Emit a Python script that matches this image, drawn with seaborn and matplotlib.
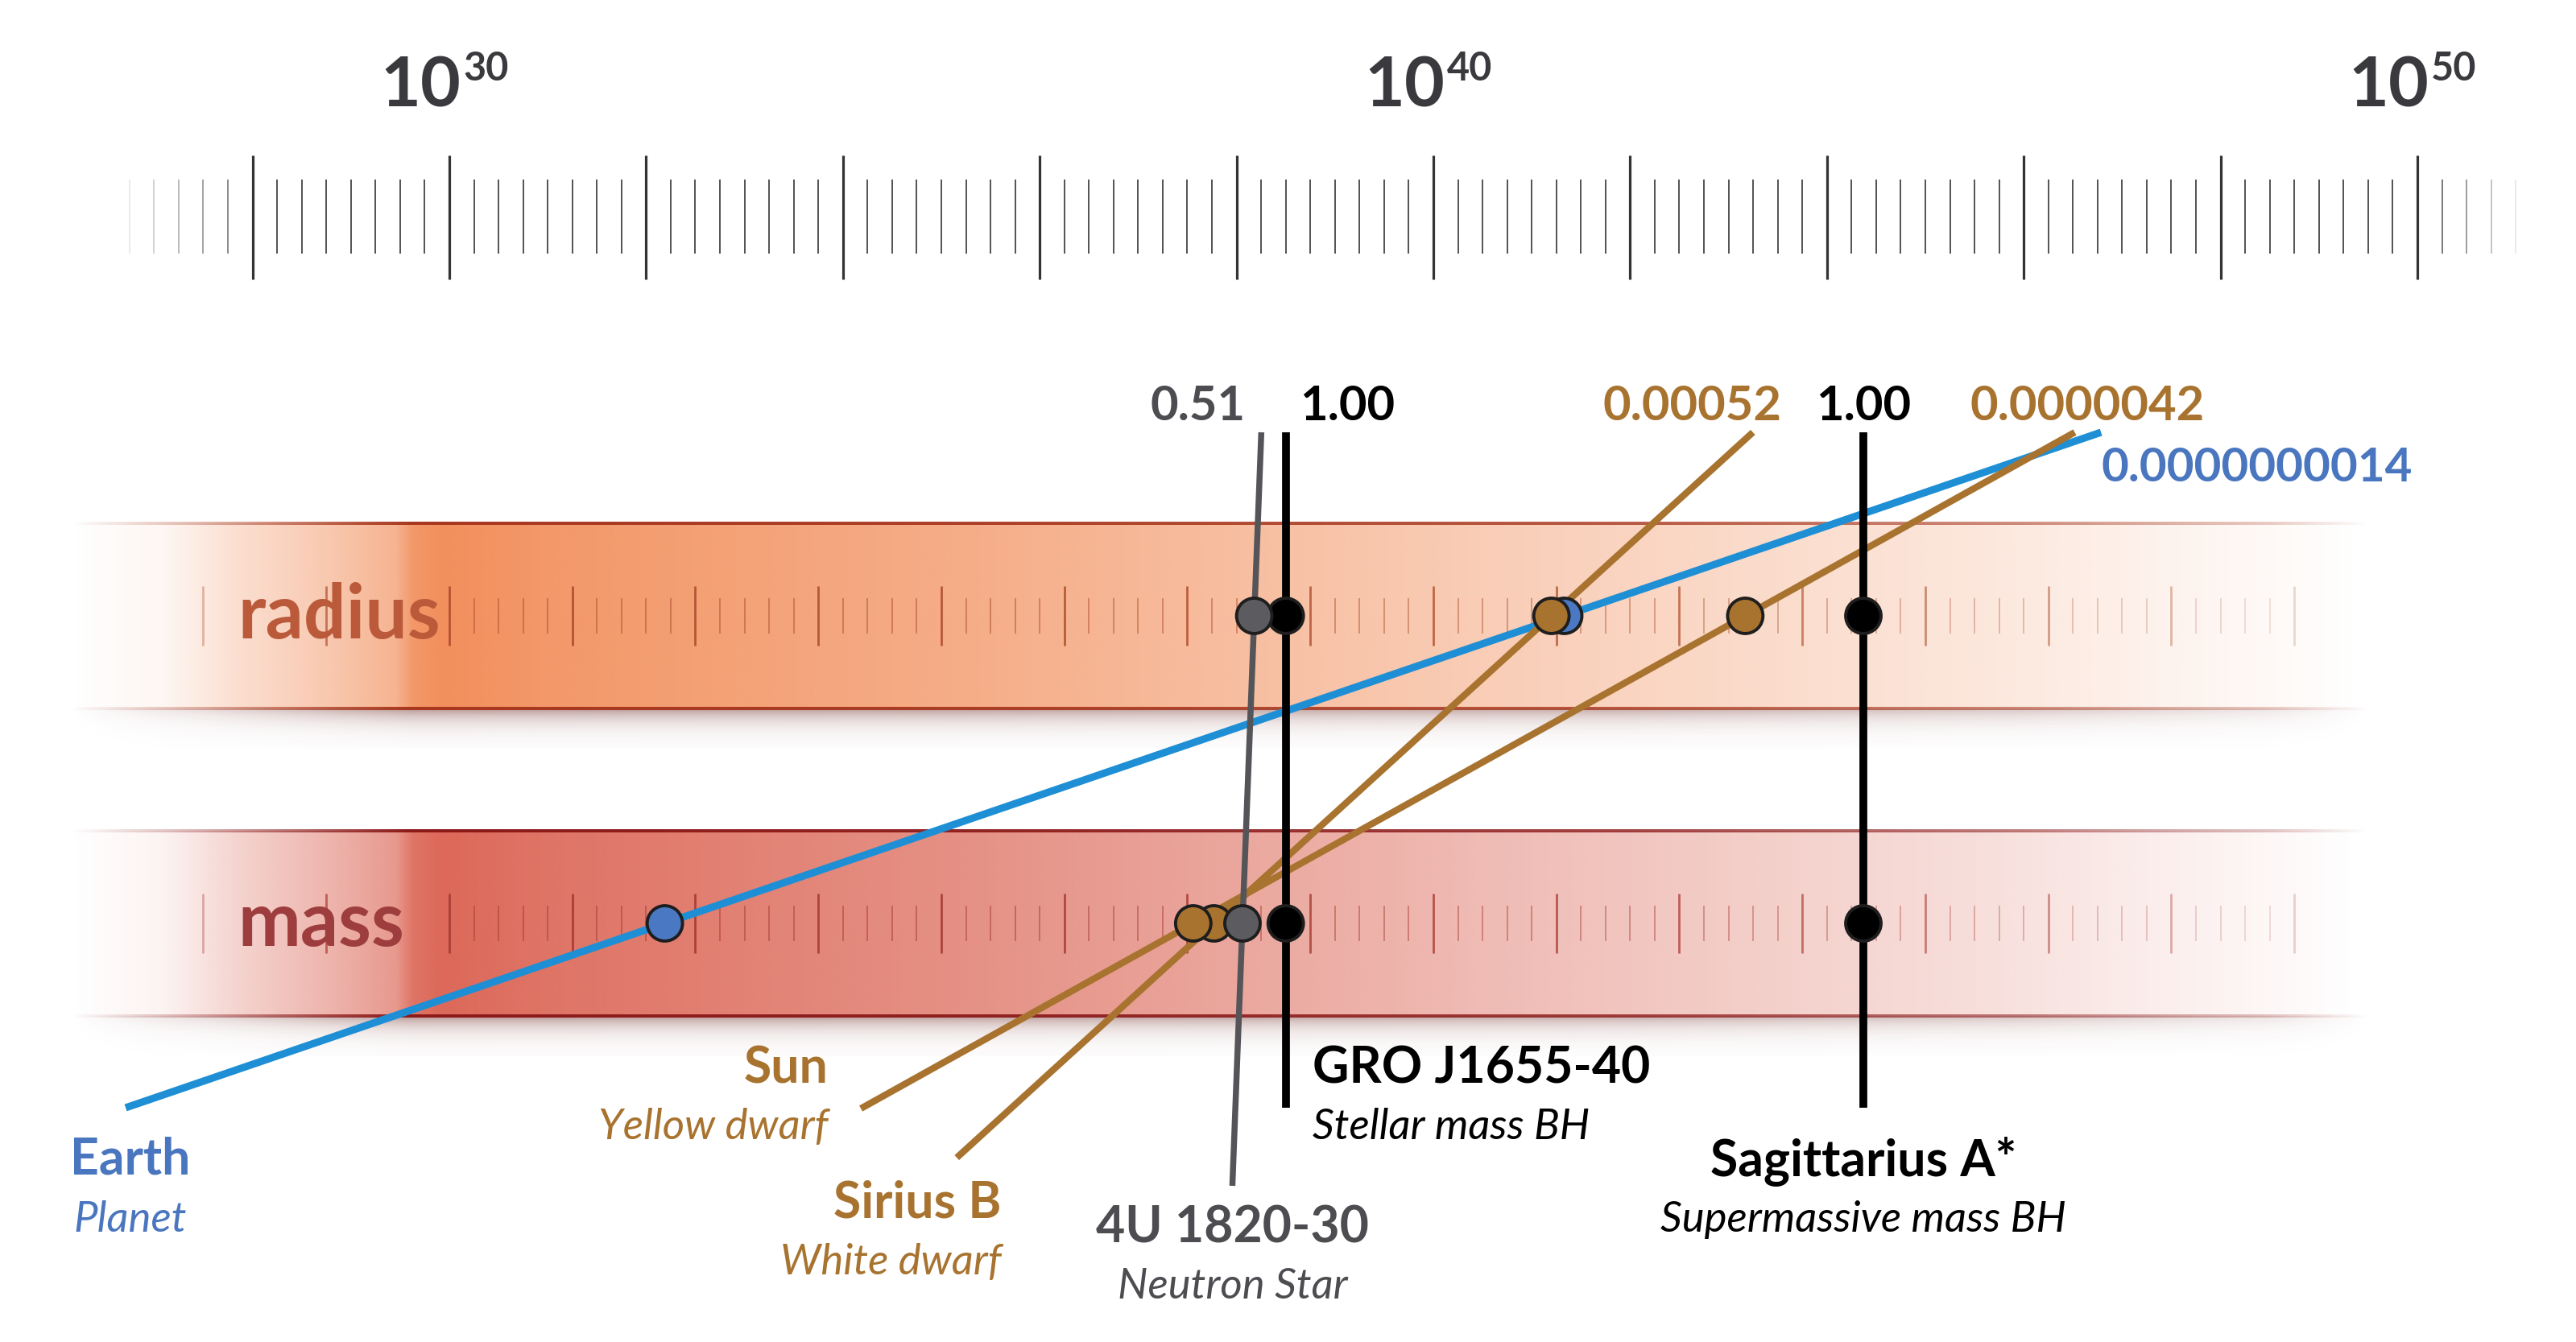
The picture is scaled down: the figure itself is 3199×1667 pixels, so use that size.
import numpy as np
import pandas as pd
import matplotlib
matplotlib.use("Agg")
import matplotlib.pyplot as plt
import seaborn as sns
from matplotlib.colors import to_rgb

sns.set_theme(style="white")
plt.rcParams['font.family'] = ['Lato', 'DejaVu Sans']

#%% data (x positions are exponents on the top ruler)
names = ["Earth", "Sun", "Sirius B", "4U 1820-30", "GRO J1655-40", "Sagittarius A*"]
kinds = ["Planet", "Yellow dwarf", "White dwarf", "Neutron Star", "Stellar mass BH", "Supermassive mass BH"]
compactness = ["0.0000000014", "0.0000042", "0.00052", "0.51", "1.00", "1.00"]
radius_pos = [41.33, 43.17, 41.20, 38.18, 38.50, 44.37]
mass_pos = [32.19, 37.56, 37.77, 38.06, 38.50, 44.37]

ruler_labels = [30, 40, 50]

line_colors = ["#1f8fd5", "#a8732f", "#a8732f", "#555559", "#000000", "#000000"]
dot_colors = ["#4a78c2", "#a8732f", "#a8732f", "#5c5c60", "#000000", "#000000"]
text_colors = ["#4a76bf", "#a8732f", "#a8732f", "#4c4c51", "#000000", "#000000"]
line_widths = [6.6, 6.0, 6.0, 5.4, 7.0, 7.0]
dot_order = [4, 5, 0, 2, 1, 3]   # later ones sit on top

#%% layout (vertical positions in pixels of the canvas)
W, H = 3199, 1667
X0 = 30 - 558 / 122.2
X1 = 30 + (W - 558) / 122.2
RADIUS_Y, MASS_Y = 765, 1147
BAND_HALF = 115
TOP_Y = 537
bottom_y = [1376, 1377, 1438, 1473, 1376, 1376]

# top value labels: (dx, baseline, ha)
top_lab = [(0.0, 598, 'left'), (0.13, 522, 'center'), (0.29, 522, 'right'),
           (-0.16, 522, 'right'), (0.14, 522, 'left'), (0.0, 522, 'center')]
# bottom labels: (dx, ha, name baseline, kind baseline)
bot_lab = [(0.05, 'center', 1458, 1530), (-0.33, 'right', 1345, 1415),
           (0.45, 'right', 1512, 1583), (0.0, 'center', 1543, 1613),
           (0.27, 'left', 1345, 1415), (0.0, 'center', 1460, 1530)]

fig = plt.figure(figsize=(W / 100, H / 100), dpi=100)
ax = fig.add_axes([0, 0, 1, 1])

#%% top ruler
major = np.arange(28, 51, 2)
minor = np.array([v for v in np.arange(26.75, 51.01, 0.25) if abs(v / 2 - round(v / 2)) > 1e-6 or v < 28 or v > 50])
minor_alpha = np.interp(minor, [26.75, 28.0, 28.25, 50.0, 51.0], [0.12, 0.8, 1.0, 1.0, 0.12])
ax.vlines(major, 193, 347, color="#333336", lw=2.3, zorder=2)
for v, a in zip(minor, minor_alpha):
    ax.vlines(v, 223, 315, color="#444448", lw=1.3, alpha=a, zorder=2)
for e in ruler_labels:
    ax.text(e + 0.12, 132, "10", ha='right', va='baseline', fontsize=62,
            fontweight='bold', color="#3a3a3e")
    ax.text(e + 0.14, 100, str(e), ha='left', va='baseline', fontsize=35,
            fontweight='bold', color="#3a3a3e")

#%% bands
BX0, BX1 = 26.15, 49.5
bx = np.linspace(BX0, BX1, 1400)
fill_x = [26.15, 27.1, 27.8, 28.8, 29.45, 29.62, 29.9, 31.0, 35.5, 40.5, 45.5, 48.0, 49.4]
fill_a = [0.0, 0.08, 0.28, 0.5, 0.68, 0.92, 1.0, 0.92, 0.72, 0.45, 0.22, 0.08, 0.0]
edge_x = [26.15, 27.5, 29.6, 35, 42, 46, 48.5, 49.5]
edge_a = [0.0, 0.35, 1.0, 0.95, 0.8, 0.55, 0.25, 0.0]


def rgba(color, xs, al, vfade=None):
    a = np.interp(bx, xs, al)
    rows = 1 if vfade is None else len(vfade)
    img = np.zeros((rows, len(bx), 4))
    img[..., :3] = to_rgb(color)
    img[..., 3] = a if vfade is None else np.outer(vfade, a)
    return img


bands = [("radius", RADIUS_Y, "#f28f5c", "#a8381f", "#b0502f", "#bb5a3a"),
         ("mass", MASS_Y, "#dc6858", "#8c1a1a", "#a83c34", "#9e3d3d")]
for label, yc, fill, edge, tick, txt in bands:
    top, bot = yc - BAND_HALF, yc + BAND_HALF
    ax.imshow(rgba(fill, fill_x, fill_a), extent=[BX0, BX1, bot, top],
              aspect='auto', interpolation='bilinear', zorder=0)
    fade = np.exp(-np.linspace(0, 3.5, 50))
    ax.imshow(rgba("#6e2a24", edge_x, [a * 0.5 for a in edge_a], fade),
              extent=[BX0, BX1, bot + 50, bot], aspect='auto',
              interpolation='bilinear', zorder=0)
    for yy in (top, bot):
        ax.imshow(rgba(edge, edge_x, edge_a), extent=[BX0, BX1, yy + 2, yy - 2],
                  aspect='auto', interpolation='bilinear', zorder=1)
    bmaj = np.arange(27.5, 48.8, 1.25)
    bmin = np.array([v for v in np.arange(30.25, 48.8, 0.25)
                     if abs((v - 30) / 1.25 - round((v - 30) / 1.25)) > 1e-6])
    for v in bmaj:
        ax.vlines(v, yc - 37, yc + 37, color=tick, lw=2.0,
                  alpha=min(1.0, float(np.interp(v, edge_x, edge_a)) * 0.9 + 0.05), zorder=1)
    for v in bmin:
        ax.vlines(v, yc - 22, yc + 22, color=tick, lw=1.2,
                  alpha=float(np.interp(v, edge_x, edge_a)) * 0.6 + 0.04, zorder=1)
    ax.text(27.85, yc + 28, label, ha='left', va='baseline', fontsize=67,
            fontweight='bold', color=txt, zorder=2)

#%% lines through radius and mass points
rows = []
for i, n in enumerate(names):
    slope = (radius_pos[i] - mass_pos[i]) / (RADIUS_Y - MASS_Y)
    for y in (TOP_Y, bottom_y[i]):
        rows.append({"object": n, "x": mass_pos[i] + (y - MASS_Y) * slope, "y": y})
lines = pd.DataFrame(rows)
for i, n in enumerate(names):
    sns.lineplot(data=lines[lines.object == n], x="x", y="y", estimator=None, sort=False,
                 color=line_colors[i], linewidth=line_widths[i], solid_capstyle='butt',
                 zorder=3, ax=ax)

dots = pd.DataFrame({
    "object": [names[i] for i in dot_order] * 2,
    "x": [radius_pos[i] for i in dot_order] + [mass_pos[i] for i in dot_order],
    "y": [RADIUS_Y] * 6 + [MASS_Y] * 6,
})
order_key = {names[i]: k for k, i in enumerate(dot_order)}
dots["k"] = dots.object.map(order_key)
dots = dots.sort_values("k", kind="stable")
sns.scatterplot(data=dots, x="x", y="y", hue="object", palette=dict(zip(names, dot_colors)),
                s=1000, edgecolor="#1e1e1e", linewidth=2.8, legend=False, zorder=5, ax=ax)

#%% labels
top_x = lines.groupby("object").apply(lambda d: d.loc[d.y.idxmin(), "x"])
bot_x = lines.groupby("object").apply(lambda d: d.loc[d.y.idxmax(), "x"])
for i, n in enumerate(names):
    dx, yb, ha = top_lab[i]
    ax.text(top_x[n] + dx, yb, compactness[i], ha=ha, va='baseline',
            fontsize=42 if i == 0 else 43, fontweight='bold', color=text_colors[i])
    dx, ha, y1, y2 = bot_lab[i]
    ax.text(bot_x[n] + dx, y1, n, ha=ha, va='baseline', fontsize=45,
            fontweight='bold', color=text_colors[i])
    ax.text(bot_x[n] + dx, y2, kinds[i], ha=ha, va='baseline', fontsize=38,
            fontstyle='italic', color=text_colors[i])

ax.set_xlim(X0, X1)
ax.set_ylim(H, 0)
ax.set_axis_off()
fig.savefig("out.png", dpi=100, facecolor="white")
